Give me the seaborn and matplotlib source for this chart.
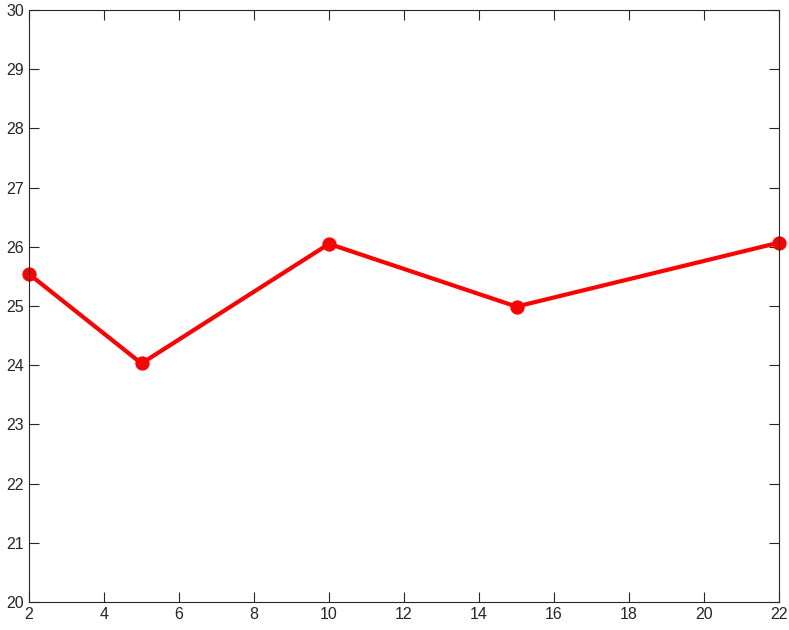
import matplotlib
matplotlib.use("Agg")
import matplotlib.pyplot as plt
import seaborn as sns
import pandas as pd

x_vals = [2, 5, 10, 15, 22]
y_vals = [25.54, 24.03, 26.05, 24.99, 26.07]

sns.set_style("white")
plt.rcParams['font.family'] = ['Liberation Sans', 'DejaVu Sans']

df = pd.DataFrame({"x": x_vals, "y": y_vals})

fig = plt.figure(figsize=(7.89, 6.30), dpi=100)
ax = fig.add_axes([29 / 789, 28 / 630, 750 / 789, 592 / 630])
sns.lineplot(data=df, x="x", y="y", ax=ax, color="#ff0000", linewidth=3,
             marker="o", markersize=9.5, markeredgecolor="#ff0000")
for ln in ax.lines:
    ln.set_clip_on(False)

ax.set_xlim(2, 22)
ax.set_ylim(20, 30)
ax.set_xticks(range(2, 23, 2))
ax.set_yticks(range(20, 31))
ax.set_xlabel("")
ax.set_ylabel("")
ax.tick_params(direction="in", length=7, width=0.8, labelsize=11.5,
               top=True, right=True, bottom=True, left=True, colors="#262626")
for s in ax.spines.values():
    s.set_color("#262626")
    s.set_linewidth(0.8)

fig.savefig("out.png", dpi=100)
